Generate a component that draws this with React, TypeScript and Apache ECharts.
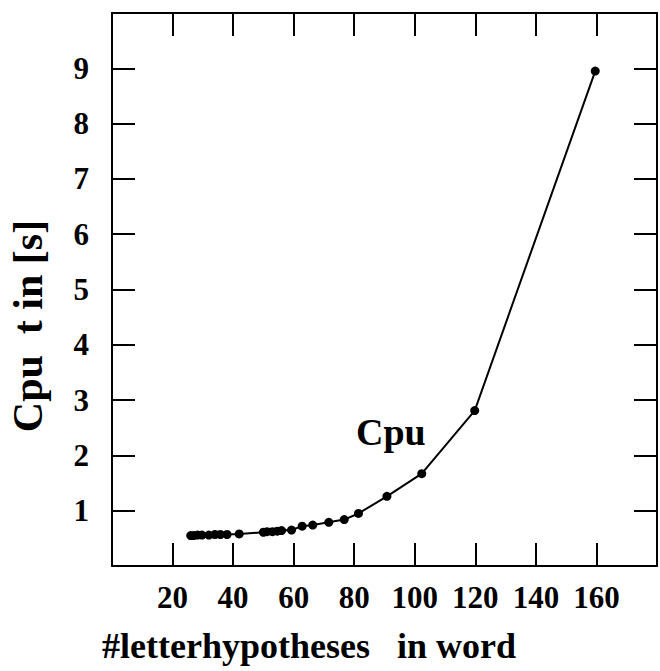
import React, { useEffect, useRef } from "react";
import * as echarts from "echarts";

const xValues = [26, 27, 28.3, 29.7, 32, 34, 35.8, 38, 42, 50, 51.2, 53, 54.6, 56, 59.3, 62.8, 66.3, 71.6, 76.7, 81.4, 90.8, 102.3, 119.8, 159.6];
const yValues = [0.55, 0.55, 0.56, 0.56, 0.56, 0.57, 0.57, 0.57, 0.58, 0.61, 0.62, 0.62, 0.63, 0.64, 0.65, 0.72, 0.74, 0.79, 0.84, 0.95, 1.26, 1.67, 2.81, 8.95];
const xTickLabels = ["20", "40", "60", "80", "100", "120", "140", "160"];
const yTickLabels = ["1", "2", "3", "4", "5", "6", "7", "8", "9"];
const xTitle = "#letterhypotheses   in word";
const yTitle = "Cpu  t in [s]";
const seriesLabel = "Cpu";

const FONT = "'Liberation Serif', 'Times New Roman', serif";

export default function App() {
  const ref = useRef<HTMLDivElement>(null);
  useEffect(() => {
    if (!ref.current) return;
    const chart = echarts.init(ref.current, undefined, { renderer: "svg" });
    const line = { color: "#000", width: 2 };
    const baseX = {
      type: "value",
      min: 0,
      max: 180,
      interval: 20,
      axisLine: { show: true, onZero: false, lineStyle: line },
      axisTick: { show: true, inside: true, length: 23, lineStyle: line },
      splitLine: { show: false },
    };
    const baseY = {
      type: "value",
      min: 0,
      max: 10,
      interval: 1,
      axisLine: { show: true, onZero: false, lineStyle: line },
      axisTick: { show: true, inside: true, length: 23, lineStyle: line },
      splitLine: { show: false },
    };
    const labelStyle = {
      color: "#000",
      fontFamily: FONT,
      fontWeight: "bold",
      fontSize: 31,
    };
    chart.setOption({
      animation: false,
      backgroundColor: "#fff",
      grid: { left: 112, top: 13, width: 554, height: 553, containLabel: false },
      xAxis: [
        {
          ...baseX,
          position: "bottom",
          axisLabel: {
            ...labelStyle,
            margin: 16,
            formatter: (v: number) => (xTickLabels.includes(String(v)) ? String(v) : ""),
          },
        },
        { ...baseX, position: "top", axisLabel: { show: false } },
      ],
      yAxis: [
        {
          ...baseY,
          position: "left",
          axisLabel: {
            ...labelStyle,
            margin: 23,
            formatter: (v: number) => (yTickLabels.includes(String(v)) ? String(v) : ""),
          },
        },
        { ...baseY, position: "right", axisLabel: { show: false } },
      ],
      series: [
        {
          type: "line",
          xAxisIndex: 0,
          yAxisIndex: 0,
          data: xValues.map((x, i) => [x, yValues[i]]),
          symbol: "circle",
          symbolSize: 9,
          itemStyle: { color: "#000" },
          lineStyle: { color: "#000", width: 2 },
        },
      ],
      graphic: [
        {
          type: "text",
          x: 102,
          y: 646,
          style: {
            text: xTitle,
            fontFamily: FONT,
            fontWeight: "bold",
            fontSize: 36,
            fill: "#000",
            align: "left",
            verticalAlign: "middle",
          },
        },
        {
          type: "text",
          x: 28,
          y: 326,
          rotation: Math.PI / 2,
          style: {
            text: yTitle,
            fontFamily: FONT,
            fontWeight: "bold",
            fontSize: 42,
            fill: "#000",
            align: "center",
            verticalAlign: "middle",
          },
        },
        {
          type: "text",
          x: 356,
          y: 432,
          style: {
            text: seriesLabel,
            fontFamily: FONT,
            fontWeight: "bold",
            fontSize: 38,
            fill: "#000",
            align: "left",
            verticalAlign: "middle",
          },
        },
      ],
    });
    return () => chart.dispose();
  }, []);
  return (
    <div style={{ position: "fixed", left: 0, top: 0, width: 660, height: 671, overflow: "hidden", background: "#fff" }}>
      <div ref={ref} style={{ width: 660, height: 671 }} />
    </div>
  );
}
